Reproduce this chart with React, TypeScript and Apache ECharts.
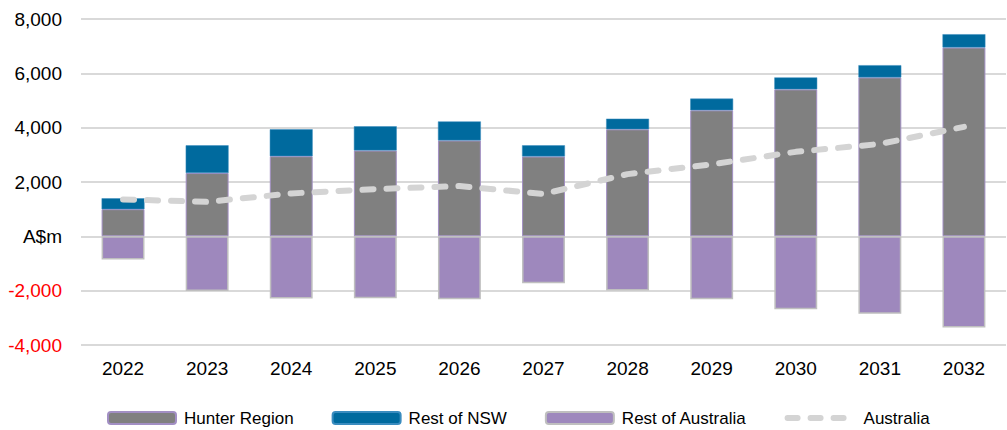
import React, { useEffect, useRef } from "react";
import * as echarts from "echarts";

const years = ["2022", "2023", "2024", "2025", "2026", "2027", "2028", "2029", "2030", "2031", "2032"];
const hunterRegion = [1000, 2330, 2950, 3160, 3530, 2940, 3940, 4640, 5410, 5850, 6950];
const restOfNSW = [400, 1020, 990, 890, 700, 410, 390, 430, 440, 450, 490];
const restOfAustralia = [-850, -2010, -2290, -2280, -2320, -1730, -1990, -2320, -2680, -2850, -3360];
const australia = [1360, 1270, 1580, 1740, 1850, 1560, 2290, 2650, 3110, 3400, 4030];

const FONT = "'Liberation Sans', Arial, sans-serif";

function fmt(v: number): string {
  if (v === 0) return "{pos|A$m}";
  const s = Math.abs(v).toString().replace(/\B(?=(\d{3})+(?!\d))/g, ",");
  return v < 0 ? "{neg|-" + s + "}" : "{pos|" + s + "}";
}

export default function App() {
  const ref = useRef<HTMLDivElement>(null);
  useEffect(() => {
    if (!ref.current) return;
    const chart = echarts.init(ref.current, undefined, { renderer: "svg" });
    chart.setOption({
      animation: false,
      textStyle: { fontFamily: FONT },
      grid: { left: 81, right: 1, top: 19, height: 326, containLabel: false },
      legend: {
        left: 107,
        top: 408,
        padding: 0,
        itemWidth: 68,
        itemHeight: 12,
        itemGap: 38,
        textStyle: { fontFamily: FONT, fontSize: 17, lineHeight: 20, color: "#000", padding: [0, 0, 0, 3] },
        data: [
          "Hunter Region",
          "Rest of NSW",
          "Rest of Australia",
          {
            name: "Australia",
            itemStyle: { opacity: 0 },
            lineStyle: { width: 6, type: [10, 13], cap: "round", color: "#d4d4d4" },
          },
        ],
      },
      xAxis: {
        type: "category",
        data: years,
        axisLine: { show: false },
        axisTick: { show: false },
        axisLabel: { color: "#000", fontSize: 19, fontFamily: FONT, margin: 14 },
      },
      yAxis: {
        type: "value",
        min: -4000,
        max: 8000,
        interval: 2000,
        axisLine: { show: false },
        axisTick: { show: false },
        splitLine: { lineStyle: { color: "#d9d9d9", width: 2 } },
        axisLabel: {
          margin: 19,
          fontSize: 19,
          fontFamily: FONT,
          color: "#000",
          formatter: fmt,
          rich: {
            neg: { color: "#ff0000", fontSize: 19, fontFamily: FONT },
            pos: { color: "#000", fontSize: 19, fontFamily: FONT },
          },
        },
      },
      series: [
        {
          name: "Hunter Region",
          type: "bar",
          stack: "a",
          barWidth: "51%",
          data: hunterRegion,
          itemStyle: { color: "#808080", borderColor: "#a28fc4", borderWidth: 1 },
        },
        {
          name: "Rest of NSW",
          type: "bar",
          stack: "a",
          data: restOfNSW,
          itemStyle: { color: "#006a9e", borderColor: "#3a8cbf", borderWidth: 0.5 },
        },
        {
          name: "Rest of Australia",
          type: "bar",
          stack: "a",
          data: restOfAustralia,
          itemStyle: { color: "#9e88bd", borderColor: "#bfbfbf", borderWidth: 1.5 },
        },
        {
          name: "Australia",
          type: "line",
          data: australia,
          symbol: "none",
          z: 5,
          lineStyle: { color: "#d4d4d4", width: 6, type: [11, 13], cap: "round" },
          itemStyle: { color: "#d4d4d4" },
        },
      ],
    });
    return () => chart.dispose();
  }, []);
  return (
    <div
      ref={ref}
      style={{ position: "fixed", left: 0, top: 0, width: 1007, height: 430, background: "#fff" }}
    />
  );
}
